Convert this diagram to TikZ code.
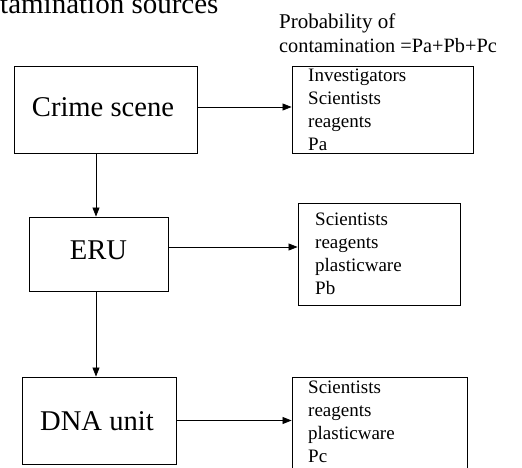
\documentclass[tikz,border=0pt]{standalone}
\usepackage{fontspec}
\setmainfont{Liberation Serif}
\usetikzlibrary{arrows.meta}
\begin{document}
\begin{tikzpicture}[x=1pt,y=-1pt,
  box/.style={draw,line width=0.9pt,inner sep=0pt,minimum width=#1},
  big/.style={font=\fontsize{28.6}{32}\selectfont,inner sep=0pt,anchor=base},
  lst/.style={font=\fontsize{19}{23}\selectfont,inner sep=0pt,anchor=base west,align=left},
  arr/.style={line width=0.8pt,-{Triangle[length=9pt,width=7pt]}}]
\useasboundingbox (0,0) rectangle (522,468);
% title and header
\node[font=\fontsize{29}{32}\selectfont,inner sep=0pt,anchor=base west] (title) at (0,14) {tamination sources};
\node[font=\fontsize{21}{24}\selectfont,inner sep=0pt,anchor=base west] (h1) at (279,29) {Probability of};
\node[font=\fontsize{20.3}{24}\selectfont,inner sep=0pt,anchor=base west] (h2) at (279,53) {contamination =Pa+Pb+Pc};
% left boxes
\node[box=183pt,minimum height=87pt] (crime) at (105.5,109.5) {};
\node[big] (crimet) at (103,117) {Crime scene};
\node[box=139pt,minimum height=74pt] (eru) at (98.5,254) {};
\node[big] (erut) at (98.5,259) {ERU};
\node[box=154pt,minimum height=87pt] (dna) at (99,420.5) {};
\node[big] (dnat) at (97,430) {DNA unit};
% right boxes (anchor = baseline of the last line)
\node[box=181pt,minimum height=87pt] (r1) at (382.5,109.5) {};
\node[lst] (r1t) at (308,150.5) {Investigators\\Scientists\\reagents\\Pa};
\node[box=162pt,minimum height=102pt] (r2) at (379,254) {};
\node[lst] (r2t) at (315,294) {Scientists\\reagents\\plasticware\\Pb};
\node[box=175pt,minimum height=100pt] (r3) at (379.5,427) {};
\node[lst] (r3t) at (308,462) {Scientists\\reagents\\plasticware\\Pc};
% connectors
\coordinate (vx) at (96,0);
\draw[arr] ([yshift=2.5pt]crime.east) -- ([yshift=2.5pt]r1.west);
\draw[arr] ([yshift=7pt]eru.east) -- ([yshift=7pt]r2.west);
\draw[arr] (dna.east) -- (r3.west |- dna.east);
\draw[arr] (crime.south -| vx) -- (eru.north -| vx);
\draw[arr] (eru.south -| vx) -- (dna.north -| vx);
\end{tikzpicture}
\end{document}
